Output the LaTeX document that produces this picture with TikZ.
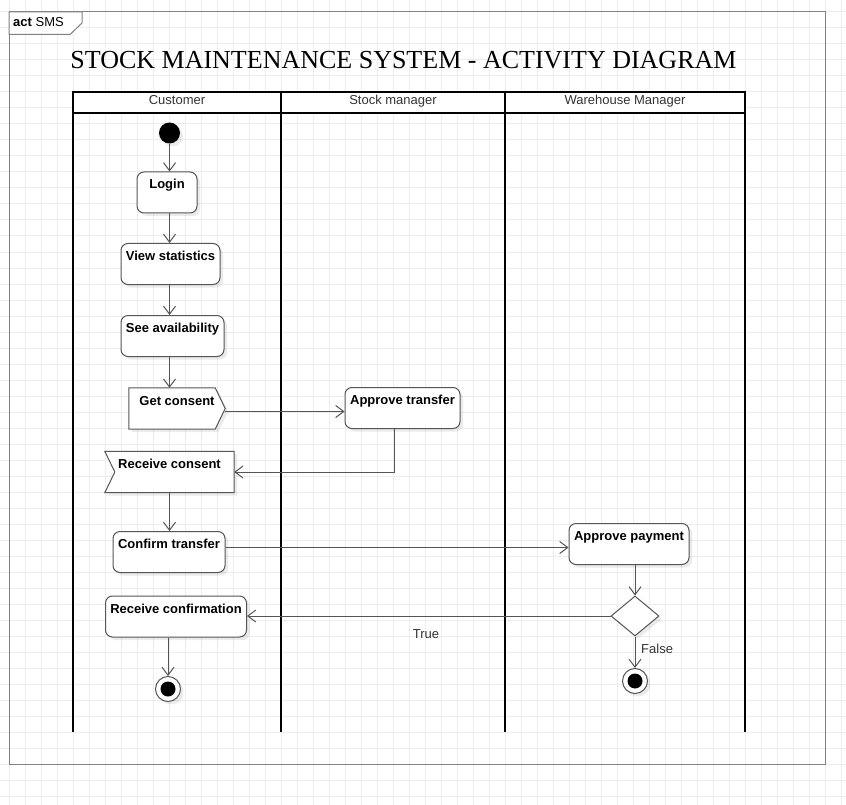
\documentclass[tikz,border=0pt]{standalone}
\usepackage{fontspec}
\setmainfont{Liberation Sans}
\newfontfamily\titlefont{Liberation Serif}
\usetikzlibrary{arrows.meta,shapes.geometric,shadows}
\definecolor{gridline}{HTML}{EDEDED}
\definecolor{ink}{HTML}{555555}
\definecolor{framegray}{HTML}{808080}
\definecolor{labelgray}{HTML}{333333}
\pgfdeclarelayer{grid}
\pgfdeclarelayer{shapes}
\pgfsetlayers{grid,shapes,main}

\begin{document}
\begin{tikzpicture}[x=1pt,y=-1pt,
  softshadow/.style={drop shadow={shadow xshift=3pt,shadow yshift=-3pt,fill=black,opacity=0.08}},
  nodefont/.style={font=\bfseries\fontsize{13}{15}\selectfont},
  action/.style={draw=ink,line width=1pt,fill=white,rounded corners=7pt,minimum height=41pt,
    inner sep=0pt,text height=9pt,text depth=16pt,nodefont,softshadow},
  signalbox/.style={minimum height=41pt,inner sep=0pt,text height=9pt,text depth=16pt,nodefont},
  signaledge/.style={draw=ink,line width=1pt,fill=white,softshadow},
  initial/.style={circle,fill=black,minimum size=21pt,inner sep=0pt,softshadow},
  final/.style={circle,draw=ink,line width=1pt,fill=white,minimum size=25pt,inner sep=0pt,softshadow,
    path picture={\fill[black] (path picture bounding box.center) circle[radius=7.5pt];}},
  decision/.style={diamond,draw=ink,line width=1pt,fill=white,minimum width=48pt,minimum height=40pt,
    inner sep=0pt,softshadow},
  flow/.style={draw=ink,line width=1pt,-{Straight Barb[length=8pt,width=12pt]}},
  lane/.style={line width=2pt,draw=black},
  lanehead/.style={anchor=base,inner sep=0pt,text=labelgray,font=\fontsize{13}{15}\selectfont},
  edgelabel/.style={inner sep=0pt,text=labelgray,font=\fontsize{13}{15}\selectfont}
]
\useasboundingbox (0,0) rectangle (846,805);

% canvas grid and outer activity frame
\begin{pgfonlayer}{grid}
  \fill[white] (0,0) rectangle (846,805);
  \foreach \gx in {9,25,...,841} \draw[gridline,line width=1pt] (\gx,0) -- (\gx,805);
  \foreach \gy in {12,28,...,796} \draw[gridline,line width=1pt] (0,\gy) -- (846,\gy);
  \draw[framegray,line width=1pt] (9,12) rectangle (825,764);
  \draw[framegray,line width=1pt,fill=white] (9,12) -- (82,12) -- (82,23) -- (70,34.5) -- (9,34.5) -- cycle;
\end{pgfonlayer}
\node[anchor=base west,inner sep=0pt,font=\fontsize{13}{15}\selectfont] (framename) at (13,27) {\textbf{act} SMS};

% title
\node[anchor=base,inner sep=0pt,font=\titlefont\fontsize{26}{30}\selectfont] (title) at (403.5,69)
  {STOCK MAINTENANCE SYSTEM - ACTIVITY DIAGRAM};

% swimlanes
\fill[white] (73,92) rectangle (745,113);
\draw[lane] (72,92) -- (746,92);
\draw[lane] (73,113) -- (745,113);
\foreach \lx in {73,281,505,745} \draw[lane] (\lx,92) -- (\lx,732);
\node[lanehead] (lanecust) at (177,105) {Customer};
\node[lanehead] (lanestock) at (393,105) {Stock manager};
\node[lanehead] (laneware) at (625,105) {Warehouse Manager};

% activity nodes
\node[initial] (init) at (169.5,133) {};
\node[action,minimum width=60pt] (login) at (167,192.5) {Login};
\node[action,minimum width=99pt] (view) at (170.5,264) {View statistics};
\node[action,minimum width=103pt] (avail) at (172.5,336) {See availability};
\node[signalbox,minimum width=96pt] (consent) at (177,408.5) {Get consent};
\node[action,minimum width=115pt] (approvet) at (402.5,408) {Approve transfer};
\node[signalbox,minimum width=129pt] (recv) at (169.5,472) {Receive consent};
\node[action,minimum width=112pt] (confirm) at (169,552) {Confirm transfer};
\node[action,minimum width=120pt] (approvep) at (629,544) {Approve payment};
\node[decision] (dec) at (635,616) {};
\node[action,minimum width=141pt] (recvconf) at (176,616.5) {Receive confirmation};
\node[final] (endc) at (168,689) {};
\node[final] (endw) at (635,681) {};

% send and accept signal outlines
\begin{pgfonlayer}{shapes}
  \draw[signaledge] (consent.north west) -- ([xshift=-10pt]consent.north east) -- (consent.east)
    -- ([xshift=-10pt]consent.south east) -- (consent.south west) -- cycle;
  \draw[signaledge] (recv.north west) -- (recv.north east) -- (recv.south east)
    -- (recv.south west) -- ([xshift=10pt]recv.west) -- cycle;
\end{pgfonlayer}

% control flows
\draw[flow] (init) -- (init |- login.north);
\draw[flow] (init |- login.south) -- (init |- view.north);
\draw[flow] (init |- view.south) -- (init |- avail.north);
\draw[flow] (init |- avail.south) -- (init |- consent.north);
\draw[flow] ([yshift=-3pt]consent.east) -- ([yshift=-3pt]consent.east -| approvet.west);
\draw[flow] ([xshift=-8.5pt]approvet.south) |- (recv.east);
\draw[flow] (init |- recv.south) -- (init |- confirm.north);
\draw[flow] ([yshift=4.5pt]confirm.east) -- ([yshift=4.5pt]confirm.east -| approvep.west);
\draw[flow] (dec |- approvep.south) -- (dec.north);
\draw[flow] (dec.west) -- (dec.west -| recvconf.east);
\draw[flow] (dec.south) -- (endw.north);
\draw[flow] (endc |- recvconf.south) -- (endc.north);

% guard labels
\node[edgelabel,anchor=base] (guardtrue) at (426,638) {True};
\node[edgelabel,anchor=base west] (guardfalse) at (641,653) {False};
\end{tikzpicture}
\end{document}
